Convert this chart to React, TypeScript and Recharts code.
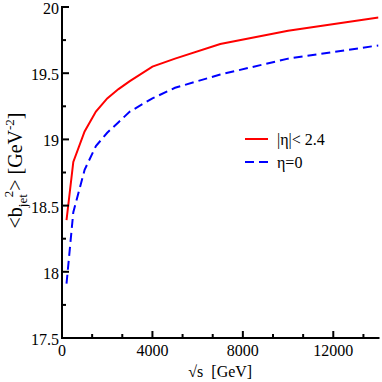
import { LineChart, Line, XAxis, YAxis, Legend } from 'recharts';

const FONT = 'Liberation Serif';

// sqrt(s) in GeV
const ENERGY = [200, 500, 1000, 1500, 2000, 2500, 3000, 4000, 5000, 7000, 10000, 14000];
// <b_jet^2> in GeV^-2
const B_ETA_24 = [18.39, 18.83, 19.06, 19.21, 19.31, 19.38, 19.44, 19.55, 19.61, 19.72, 19.82, 19.92];
const B_ETA_0 = [17.91, 18.45, 18.77, 18.95, 19.05, 19.13, 19.21, 19.31, 19.39, 19.49, 19.61, 19.71];

const X_TICKS = [0, 4000 / 3, 8000 / 3, 4000, 16000 / 3, 20000 / 3, 8000, 28000 / 3, 32000 / 3, 12000, 40000 / 3];
const Y_TICKS = [17.5, 17.75, 18, 18.25, 18.5, 18.75, 19, 19.25, 19.5, 19.75, 20];

const data = ENERGY.map((e, i) => ({ e, eta24: B_ETA_24[i], eta0: B_ETA_0[i] }));

const isMajor = (v: number, step: number) => Math.abs(v / step - Math.round(v / step)) < 1e-6;

const txt = { fontSize: 16, fontFamily: `"${FONT}"`, fill: '#000' };

const BottomTick = (props: any) => {
  const { x, y, payload } = props;
  const major = isMajor(payload.value, 4000);
  return (
    <g>
      <line x1={x} y1={y} x2={x} y2={y - (major ? 7 : 4)} stroke="#000" strokeWidth={2} />
      {major && (
        <text x={x} y={y + 18} textAnchor="middle" style={txt}>
          {Math.round(payload.value)}
        </text>
      )}
    </g>
  );
};

const TopTick = (props: any) => {
  const { x, y, payload } = props;
  const major = isMajor(payload.value, 4000);
  return <line x1={x} y1={y} x2={x} y2={y + (major ? 7 : 4)} stroke="#000" strokeWidth={2} />;
};

const LeftTick = (props: any) => {
  const { x, y, payload } = props;
  const major = isMajor(payload.value, 0.5);
  return (
    <g>
      <line x1={x} y1={y} x2={x + (major ? 7 : 4)} y2={y} stroke="#000" strokeWidth={2} />
      {major && (
        <text x={x - 3} y={y + 7} textAnchor="end" style={txt}>
          {payload.value}
        </text>
      )}
    </g>
  );
};

const RightTick = (props: any) => {
  const { x, y, payload } = props;
  const major = isMajor(payload.value, 0.5);
  return <line x1={x} y1={y} x2={x - (major ? 7 : 4)} y2={y} stroke="#000" strokeWidth={2} />;
};

// rotated title: <b_jet^2> [GeV^-2]
const YTitle = (props: any) => {
  const vb = props.viewBox;
  const cx = vb.x + 22;
  const cy = vb.y + vb.height / 2 - 2;
  return (
    <text
      x={cx}
      y={cy}
      transform={`rotate(-90, ${cx}, ${cy})`}
      textAnchor="middle"
      style={{ ...txt, fontSize: 20 }}
    >
      <tspan>{'<b'}</tspan>
      <tspan dy={5} style={{ fontSize: 13 }}>jet</tspan>
      <tspan dx={-3} dy={-14} style={{ fontSize: 13 }}>2</tspan>
      <tspan dy={9}>{'>\u00a0[GeV'}</tspan>
      <tspan dy={-8} style={{ fontSize: 13 }}>-2</tspan>
      <tspan dy={8}>]</tspan>
    </text>
  );
};

const XTitle = (props: any) => {
  const vb = props.viewBox;
  return (
    <text x={vb.x + vb.width / 2} y={vb.y + 39} textAnchor="middle" style={txt}>
      {'\u221As\u00a0\u00a0[GeV]'}
    </text>
  );
};

const renderLegend = (props: any) => {
  const items = props.payload || [];
  return (
    <svg width={130} height={46}>
      {items.map((entry: any, i: number) => {
        const y = 11 + i * 23;
        return (
          <g key={`leg-${i}`}>
            <line
              x1={5}
              y1={y}
              x2={28}
              y2={y}
              stroke={entry.color}
              strokeWidth={2}
              strokeDasharray={entry.payload?.strokeDasharray}
            />
            <text x={37} y={y + 5.5} style={txt}>
              {entry.value}
            </text>
          </g>
        );
      })}
    </svg>
  );
};

const axisLine = { stroke: '#000', strokeWidth: 2, strokeLinecap: 'square' as const };

export default function App() {
  return (
    <div style={{ position: 'absolute', left: 0, top: 0, width: 382, height: 382, background: '#fff' }}>
      <LineChart width={382} height={382} data={data} margin={{ top: 7, right: 3.5, bottom: 0, left: 0 }}>
        <XAxis
          xAxisId="b"
          dataKey="e"
          type="number"
          domain={[0, 14000]}
          ticks={X_TICKS}
          interval={0}
          allowDataOverflow
          height={44}
          tickSize={0}
          tickMargin={0}
          tickLine={false}
          axisLine={axisLine}
          tick={<BottomTick />}
          label={<XTitle />}
        />
        <XAxis
          xAxisId="t"
          orientation="top"
          dataKey="e"
          type="number"
          domain={[0, 14000]}
          ticks={X_TICKS}
          interval={0}
          allowDataOverflow
          height={0}
          tickSize={0}
          tickMargin={0}
          tickLine={false}
          axisLine={axisLine}
          tick={<TopTick />}
        />
        <YAxis
          yAxisId="l"
          type="number"
          domain={[17.5, 20]}
          ticks={Y_TICKS}
          interval={0}
          allowDataOverflow
          width={62}
          tickSize={0}
          tickMargin={0}
          tickLine={false}
          axisLine={axisLine}
          tick={<LeftTick />}
          label={<YTitle />}
        />
        <YAxis
          yAxisId="r"
          orientation="right"
          type="number"
          domain={[17.5, 20]}
          ticks={Y_TICKS}
          interval={0}
          allowDataOverflow
          width={0}
          tickSize={0}
          tickMargin={0}
          tickLine={false}
          axisLine={axisLine}
          tick={<RightTick />}
        />
        <Legend
          layout="vertical"
          align="center"
          verticalAlign="middle"
          content={renderLegend}
          wrapperStyle={{ left: 240, top: 128, width: 130 }}
        />
        <Line
          xAxisId="b"
          yAxisId="l"
          dataKey="eta24"
          name="|η|< 2.4"
          type="linear"
          stroke="#ff0000"
          strokeWidth={2}
          dot={false}
          isAnimationActive={false}
        />
        <Line
          xAxisId="b"
          yAxisId="l"
          dataKey="eta0"
          name="η=0"
          type="linear"
          stroke="#0000ff"
          strokeWidth={2}
          strokeDasharray="9 5"
          dot={false}
          isAnimationActive={false}
        />
      </LineChart>
    </div>
  );
}
